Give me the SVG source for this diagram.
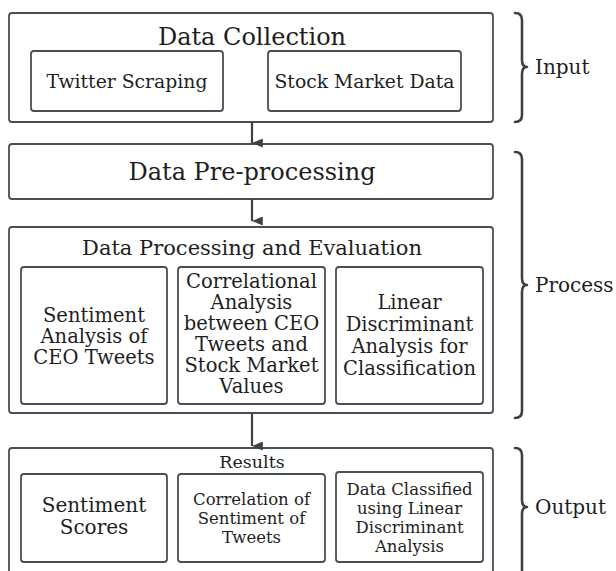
<svg xmlns="http://www.w3.org/2000/svg" width="616" height="571" viewBox="0 0 616 571">
  <style>
    .box { fill: #ffffff; stroke: #4a4f57; stroke-width: 1.8; }
    .t { font-family: "DejaVu Serif", "Liberation Serif", serif; fill: #1e1e1e; text-anchor: middle; }
    .lbl { font-family: "DejaVu Serif", "Liberation Serif", serif; fill: #1e1e1e; font-size: 20px; }
    .brace { fill: none; stroke: #3d4249; stroke-width: 2.6; stroke-linecap: round; stroke-linejoin: round; }
    .conn { stroke: #3d4249; stroke-width: 2.2; fill: none; }
  </style>
  <defs>
    <marker id="arrow" viewBox="0 0 10 12" refX="5" refY="12" markerWidth="9" markerHeight="12" markerUnits="userSpaceOnUse" orient="auto-start-reverse">
      <path d="M0,0 L10,0 L5,12 Z" fill="#3d4249"/>
    </marker>
  </defs>
  <rect width="616" height="571" fill="#ffffff"/>

  <!-- Input stage -->
  <g id="data-collection">
    <rect class="box" x="9" y="13" width="484" height="109" rx="3"/>
    <text class="t" x="252" y="45" font-size="24">Data Collection</text>
  </g>
  <g id="twitter-scraping">
    <rect class="box" x="31" y="51" width="192" height="60" rx="3"/>
    <text class="t" x="127" y="88" font-size="18.8">Twitter Scraping</text>
  </g>
  <g id="stock-market-data">
    <rect class="box" x="268" y="51" width="193" height="60" rx="3"/>
    <text class="t" x="364.5" y="88" font-size="18.8">Stock Market Data</text>
  </g>

  <!-- Process stage -->
  <g id="data-preprocessing">
    <rect class="box" x="9" y="144" width="484" height="55" rx="3"/>
    <text class="t" x="252" y="180" font-size="24">Data Pre-processing</text>
  </g>
  <g id="data-processing">
    <rect class="box" x="9" y="227" width="484" height="186" rx="3"/>
    <text class="t" x="252" y="255" font-size="21">Data Processing and Evaluation</text>
  </g>
  <g id="sentiment-analysis">
    <rect class="box" x="21" y="267" width="146" height="137" rx="3"/>
    <text class="t" font-size="19.5"><tspan x="94" y="322">Sentiment</tspan><tspan x="94" y="343">Analysis of</tspan><tspan x="94" y="364">CEO Tweets</tspan></text>
  </g>
  <g id="correlational-analysis">
    <rect class="box" x="178" y="267" width="147" height="137" rx="3"/>
    <text class="t" font-size="19.5"><tspan x="251.5" y="288">Correlational</tspan><tspan x="251.5" y="309">Analysis</tspan><tspan x="251.5" y="330">between CEO</tspan><tspan x="251.5" y="351">Tweets and</tspan><tspan x="251.5" y="372">Stock Market</tspan><tspan x="251.5" y="393">Values</tspan></text>
  </g>
  <g id="lda-classification">
    <rect class="box" x="336" y="267" width="147" height="137" rx="3"/>
    <text class="t" font-size="19.5"><tspan x="409.5" y="309">Linear</tspan><tspan x="409.5" y="331">Discriminant</tspan><tspan x="409.5" y="353">Analysis for</tspan><tspan x="409.5" y="375">Classification</tspan></text>
  </g>

  <!-- Output stage -->
  <g id="results">
    <rect class="box" x="9" y="448" width="484" height="140" rx="3"/>
    <text class="t" x="252" y="468" font-size="17.5">Results</text>
  </g>
  <g id="sentiment-scores">
    <rect class="box" x="21" y="474" width="146" height="88" rx="3"/>
    <text class="t" font-size="20"><tspan x="94" y="512">Sentiment</tspan><tspan x="94" y="534">Scores</tspan></text>
  </g>
  <g id="sentiment-correlation">
    <rect class="box" x="178" y="474" width="147" height="88" rx="3"/>
    <text class="t" font-size="16.5"><tspan x="251.5" y="505">Correlation of</tspan><tspan x="251.5" y="524">Sentiment of</tspan><tspan x="251.5" y="543">Tweets</tspan></text>
  </g>
  <g id="lda-classified">
    <rect class="box" x="336" y="472" width="147" height="90" rx="3"/>
    <text class="t" font-size="16.5"><tspan x="409.5" y="495">Data Classified</tspan><tspan x="409.5" y="514">using Linear</tspan><tspan x="409.5" y="533">Discriminant</tspan><tspan x="409.5" y="552">Analysis</tspan></text>
  </g>

  <!-- Stage connectors -->
  <g id="connectors">
    <line class="conn" x1="252" y1="122" x2="252" y2="143" marker-end="url(#arrow)"/>
    <line class="conn" x1="252" y1="199" x2="252" y2="221" marker-end="url(#arrow)"/>
    <line class="conn" x1="252" y1="413" x2="252" y2="446" stroke-width="3" marker-end="url(#arrow)"/>
  </g>

  <!-- Stage braces and labels -->
  <g id="input-brace">
    <path class="brace" d="M515,13 Q522,13 522,20 L522,60 Q522,67 527,67 Q522,67 522,74 L522,115 Q522,122 515,122"/>
    <text class="lbl" x="535" y="74">Input</text>
  </g>
  <g id="process-brace">
    <path class="brace" d="M515,152 Q522,152 522,159 L522,278 Q522,285 527,285 Q522,285 522,292 L522,411 Q522,418 515,418"/>
    <text class="lbl" x="535" y="292">Process</text>
  </g>
  <g id="output-brace">
    <path class="brace" d="M515,448 Q522,448 522,455 L522,500 Q522,507 527,507 Q522,507 522,514 L522,580"/>
    <text class="lbl" x="535" y="514">Output</text>
  </g>
</svg>
